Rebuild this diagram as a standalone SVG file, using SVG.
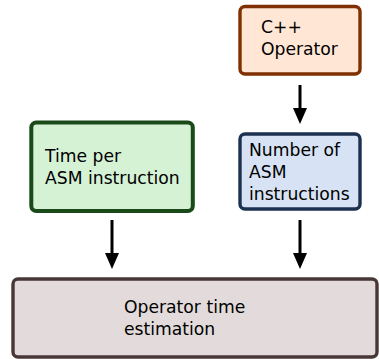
<svg xmlns="http://www.w3.org/2000/svg" width="379" height="359" viewBox="0 0 379 359">
<defs>
<style>
.box{stroke-width:3.4}
.t{font-family:"DejaVu Sans",sans-serif;font-size:17.2px;fill:#000}
.c{stroke:#000;stroke-width:3;fill:none}
.h{fill:#000}
</style>
</defs>
<g id="cpp">
<rect class="box" x="240" y="6.5" width="120" height="67.5" rx="5" fill="#ffe6d5" stroke="#7f2f00"/>
<text class="t" x="261" y="33">C++</text>
<text class="t" x="261" y="55">Operator</text>
</g>
<g id="time">
<rect class="box" x="31.3" y="122.5" width="161.5" height="88.5" rx="5" fill="#d5f2d5" stroke="#1a4a1a" style="stroke-width:4"/>
<text class="t" x="45" y="162">Time per</text>
<text class="t" x="45" y="184">ASM instruction</text>
</g>
<g id="num">
<rect class="box" x="240" y="134" width="120" height="75" rx="5" fill="#d7e3f4" stroke="#1c3050"/>
<text class="t" x="249" y="156">Number of</text>
<text class="t" x="249" y="178">ASM</text>
<text class="t" x="249" y="200">instructions</text>
</g>
<g id="est">
<rect class="box" x="13" y="279" width="364" height="78" rx="5" fill="#e3dbdb" stroke="#483737"/>
<text class="t" x="124" y="313">Operator time</text>
<text class="t" x="124" y="335">estimation</text>
</g>
<g id="connectors">
<path class="c" d="M300,85 V110"/>
<path class="h" d="M293,108 L307,108 L300,124 Z"/>
<path class="c" d="M112,220 V255"/>
<path class="h" d="M105,253 L119,253 L112,269 Z"/>
<path class="c" d="M300,220 V255"/>
<path class="h" d="M293,253 L307,253 L300,269 Z"/>
</g>
</svg>
